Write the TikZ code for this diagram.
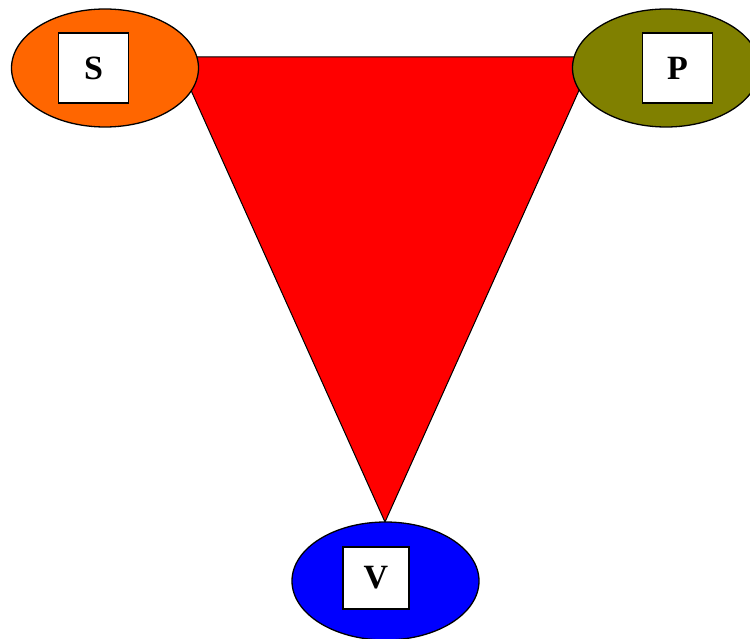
\documentclass[tikz,border=0pt]{standalone}
\usepackage{fontspec}
\setmainfont{Liberation Serif}
\usetikzlibrary{shapes.geometric}
\definecolor{sorange}{HTML}{FF6600}
\definecolor{polive}{HTML}{808000}
\definecolor{vblue}{HTML}{0000FF}
\definecolor{tred}{HTML}{FF0000}
\begin{document}
\begin{tikzpicture}[x=1pt,y=-1pt,
  blob/.style={ellipse,draw=black,line width=1.3pt,minimum width=187pt,minimum height=118pt,inner sep=0pt},
  lbl/.style={rectangle,draw=black,fill=white,line width=1.3pt,minimum width=70pt,minimum height=70pt,inner sep=0pt,font=\fontsize{34}{40}\selectfont\bfseries}]
\useasboundingbox (0,0) rectangle (750,639);
\coordinate (t1) at (176,57);
\coordinate (t2) at (594,57);
\coordinate (t3) at (385,522);
\fill[tred] (t1) -- (t2) -- (t3) -- cycle;
\draw[line width=1pt] (t1) -- (t2) -- (t3) -- cycle;
\node[blob,fill=sorange] (es) at (105,68) {};
\node[blob,fill=polive] (ep) at (666,68) {};
\node[blob,fill=vblue] (ev) at (385.5,581) {};
\node[lbl] (s) at (93.5,68) {S};
\node[lbl] (p) at (677.5,68) {P};
\node[lbl,minimum width=66pt,minimum height=62pt] (v) at (376,578) {V};
\end{tikzpicture}
\end{document}
